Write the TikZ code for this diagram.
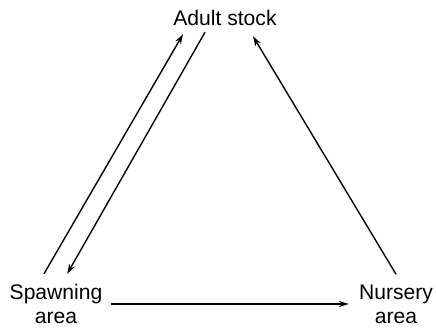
\documentclass[tikz,border=0pt]{standalone}
\usepackage{fontspec}
\setmainfont{Liberation Sans}
\usetikzlibrary{arrows.meta,positioning}

\begin{document}
\begin{tikzpicture}[
    place/.style={font=\fontsize{15}{17}\selectfont,align=center,inner sep=3pt},
    flow/.style={-{Stealth[length=7pt,width=4.5pt]},line width=1pt}
  ]
  % Frame of the picture
  \useasboundingbox (0,0) rectangle (10.9,8.2);
  % Places
  \node[place] (adult) at (5.625,7.75) {Adult stock};
  \node[place] (spawn) at (1.4,0.6) {Spawning\\area};
  \node[place] (nursery) at (9.9,0.6) {Nursery\\area};
  % Migrations between the places
  \draw[flow] ([xshift=-0.3cm,yshift=0.15cm]spawn.north) -- ([xshift=-1.05cm,yshift=-0.1cm]adult.south);
  \draw[flow] ([xshift=-0.5cm,yshift=-0.05cm]adult.south) -- ([xshift=0.28cm,yshift=0.15cm]spawn.north);
  \draw[flow] ([yshift=0.15cm]nursery.north) -- ([xshift=0.7cm,yshift=-0.15cm]adult.south);
  \draw[flow] ([xshift=0.1cm]spawn.east) -- ([xshift=-0.15cm]nursery.west);
\end{tikzpicture}
\end{document}
